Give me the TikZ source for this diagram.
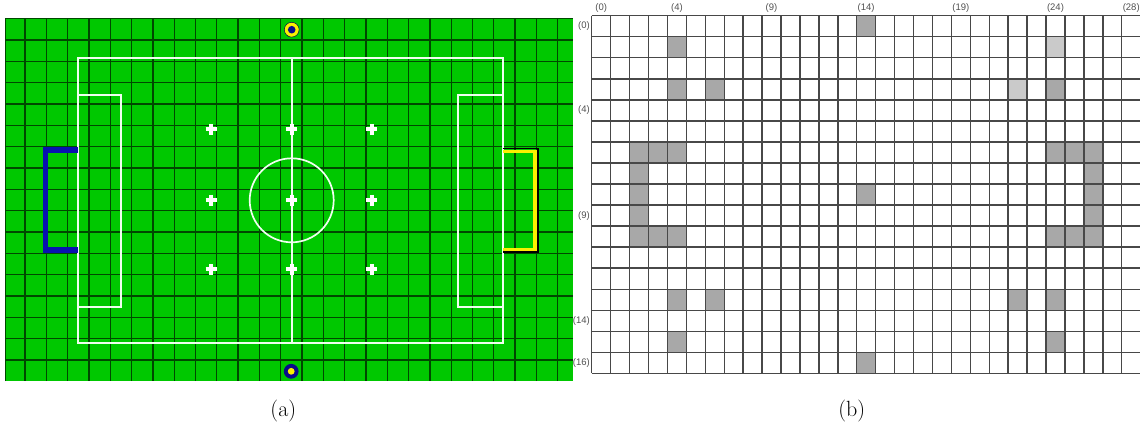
\documentclass[tikz,border=0pt]{standalone}
\usepackage{fontspec}
\newfontfamily\labfont{Liberation Sans}
\definecolor{pitch}{RGB}{0,200,0}
\definecolor{pgrid}{RGB}{0,72,0}
\definecolor{goalblue}{RGB}{8,18,176}
\definecolor{goalyel}{RGB}{250,240,0}
\definecolor{navy}{RGB}{10,10,140}
\definecolor{occ}{RGB}{168,168,168}
\definecolor{occl}{RGB}{202,202,202}
\definecolor{bgrid}{RGB}{72,72,72}
\definecolor{labc}{RGB}{80,80,80}
\tikzset{
  pgridline/.style={pgrid, line width=1.3pt},
  fieldline/.style={white!94!green, line width=1.7pt},
  spot/.style={white, line width=4.2pt},
  bgridline/.style={bgrid, line width=1.4pt},
  lbl/.style={font=\labfont\fontsize{9.5}{10}\selectfont, text=labc, inner sep=0pt},
  caption/.style={font=\fontsize{22}{26}\selectfont, inner sep=0pt, anchor=base},
}
\begin{document}
\begin{tikzpicture}[x=1pt,y=-1pt]
\useasboundingbox (0,0) rectangle (1140,428);
% ---------- panel (a) ----------
\fill[pitch] (5,18.3) rectangle (572.7,381);
\foreach \k in {0,...,25} \draw[pgridline] ({25+21.31*\k},18.3) -- ({25+21.31*\k},381);
\foreach \k in {0,...,15} \draw[pgridline] (5,{40+21.33*\k}) -- (572.7,{40+21.33*\k});
\draw[pgrid, line width=0.8pt] (5,381) -- (5,18.3) -- (572.7,18.3);
% field markings
\draw[fieldline] (77.7,58.3) rectangle (502.7,342.7);
\draw[fieldline] (291.7,58.3) -- (291.7,342.7);
\draw[fieldline] (77.7,95) rectangle (121,306.7);
\draw[fieldline] (458.3,95) rectangle (502.7,306.7);
\draw[fieldline] (291.7,200.3) circle (42);
\foreach \x in {211,291.7,371.7}
  \foreach \y in {129.3,200,269.3}
    \draw[spot] ({\x-5.5},\y) -- ({\x+5.5},\y) (\x,{\y-5.5}) -- (\x,{\y+5.5});
% goals
\draw[goalblue, line width=5.5pt, line join=miter] (77.7,150.2) -- (45.5,150.2) -- (45.5,250) -- (77.7,250);
\draw[black, line width=1.8pt, line join=miter] (502.7,148.4) -- (537.7,148.4) -- (537.7,252.2) -- (502.7,252.2);
\draw[goalyel, line width=3.6pt, line join=miter] (502.7,151.5) -- (534.8,151.5) -- (534.8,249.6) -- (502.7,249.6);
% balls
\fill[goalyel, draw=navy!60!black, line width=0.5pt] (291.7,29.7) circle (7.4);
\fill[navy] (291.7,29.7) circle (3.8);
\fill[navy] (291.2,371.3) circle (7.4);
\fill[goalyel] (291.2,371.3) circle (3.4);
\node[caption] (capa) at (283.3,416) {(a)};
% ---------- panel (b) ----------
\foreach \c/\r in {4/1,4/3,6/3,2/6,3/6,4/6,2/7,2/8,2/9,2/10,3/10,4/10,4/13,6/13,4/15,
                   14/0,14/8,14/16,24/3,24/6,25/6,26/6,26/7,26/8,26/9,24/10,25/10,26/10,22/13,24/13,24/15}
  \fill[occ] ({591.7+18.93*\c},{15.7+21.04*\r}) rectangle +(18.93,21.04);
\foreach \c/\r in {24/1,22/3}
  \fill[occl] ({591.7+18.93*\c},{15.7+21.04*\r}) rectangle +(18.93,21.04);
\foreach \k in {0,...,29} \draw[bgridline] ({591.7+18.93*\k},15.7) -- ({591.7+18.93*\k},373.4);
\foreach \k in {0,...,17} \draw[bgridline] (591.7,{15.7+21.04*\k}) -- (1140.6,{15.7+21.04*\k});
\foreach \c in {0,4,9,14,19,24,28}
  \node[lbl] (col\c) at ({591.7+18.93*(\c+0.5)},8.5) {(\c)};
\foreach \r in {0,4,9,14,16}
  \node[lbl, anchor=east] (row\r) at (590,{15.7+21.04*(\r+0.5)}) {(\r)};
\node[caption] (capb) at (851.7,416) {(b)};
\end{tikzpicture}
\end{document}
